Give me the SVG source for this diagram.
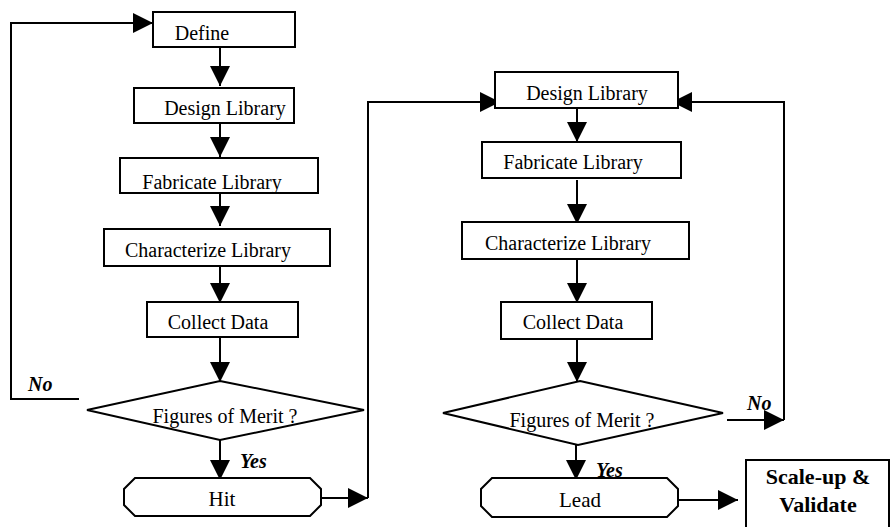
<svg xmlns="http://www.w3.org/2000/svg" width="893" height="527" viewBox="0 0 893 527">
<defs>
<marker id="ah" markerUnits="userSpaceOnUse" markerWidth="20" markerHeight="20" viewBox="0 0 20 20" refX="20" refY="10" orient="auto">
<path d="M0,0 L20,10 L0,20 Z" fill="#000"/>
</marker>
<style>
.box{fill:#fff;stroke:#000;stroke-width:2}
.c{fill:none;stroke:#000;stroke-width:2}
</style>
</defs>
<rect width="893" height="527" fill="#fff"/>
<g id="connectors">
<line class="c" x1="220" y1="42" x2="220" y2="86" marker-end="url(#ah)"/>
<line class="c" x1="220" y1="120" x2="220" y2="157" marker-end="url(#ah)"/>
<line class="c" x1="220" y1="187" x2="220" y2="226" marker-end="url(#ah)"/>
<line class="c" x1="220" y1="262" x2="220" y2="303" marker-end="url(#ah)"/>
<line class="c" x1="220" y1="338" x2="220" y2="382" marker-end="url(#ah)"/>
<line class="c" x1="220" y1="440" x2="220" y2="480" marker-end="url(#ah)"/>
<polyline class="c" points="79,399 11,399 11,23 153,23" marker-end="url(#ah)"/>
<line class="c" x1="312" y1="498" x2="368" y2="498" marker-end="url(#ah)"/>
<polyline class="c" points="368,498 368,102 500,102" marker-end="url(#ah)"/>
<line class="c" x1="577" y1="100" x2="577" y2="142" marker-end="url(#ah)"/>
<line class="c" x1="577" y1="180" x2="577" y2="224" marker-end="url(#ah)"/>
<line class="c" x1="577" y1="260" x2="577" y2="303" marker-end="url(#ah)"/>
<line class="c" x1="577" y1="339" x2="577" y2="382" marker-end="url(#ah)"/>
<line class="c" x1="576" y1="445" x2="576" y2="480" marker-end="url(#ah)"/>
<line class="c" x1="727" y1="420" x2="784" y2="420" marker-end="url(#ah)"/>
<polyline class="c" points="784,420 784,102 672,102" marker-end="url(#ah)"/>
<line class="c" x1="670" y1="500" x2="738" y2="500" marker-end="url(#ah)"/>
<g font-family="Liberation Serif, Times New Roman, serif" font-size="20" font-weight="bold" font-style="italic" fill="#000">
<text x="28" y="391">No</text>
<text x="240" y="468">Yes</text>
<text x="747" y="410">No</text>
<text x="596" y="477">Yes</text>
</g>
</g>
<g font-family="Liberation Serif, Times New Roman, serif" font-size="20" fill="#000" text-anchor="middle">
<g id="define"><rect class="box" x="153" y="12" width="142" height="35"/><text x="202" y="40">Define</text></g>
<g id="design1"><rect class="box" x="134" y="88" width="160" height="35"/><text x="225" y="115">Design Library</text></g>
<g id="fab1"><rect class="box" x="120" y="158" width="198" height="35"/><text x="212" y="189">Fabricate Library</text></g>
<g id="char1"><rect class="box" x="104" y="229" width="226" height="37"/><text x="208" y="257">Characterize Library</text></g>
<g id="collect1"><rect class="box" x="147" y="302" width="151" height="35"/><text x="218" y="329">Collect Data</text></g>
<g id="merit1"><polygon class="box" points="220,381 364,410 220,440 87,410"/><text x="225" y="423">Figures of Merit ?</text></g>
<g id="hit"><polygon class="box" points="135,478 310,478 321,489 321,505 310,516 135,516 124,505 124,489"/><text x="222" y="506" font-size="21">Hit</text></g>
<g id="design2"><rect class="box" x="495" y="72" width="183" height="36"/><text x="587" y="100">Design Library</text></g>
<g id="fab2"><rect class="box" x="482" y="142" width="199" height="36"/><text x="573" y="169">Fabricate Library</text></g>
<g id="char2"><rect class="box" x="462" y="222" width="227" height="37"/><text x="568" y="250">Characterize Library</text></g>
<g id="collect2"><rect class="box" x="501" y="302" width="151" height="37"/><text x="573" y="329">Collect Data</text></g>
<g id="merit2"><polygon class="box" points="580,381 723,413 578,445 443,413"/><text x="582" y="427">Figures of Merit ?</text></g>
<g id="lead"><polygon class="box" points="492,478 667,478 678,489 678,506 667,517 492,517 481,506 481,489"/><text x="580" y="507" font-size="21">Lead</text></g>
<g id="scaleup"><rect class="box" x="746" y="460" width="143" height="70"/><text x="818" y="484" font-size="22" font-weight="bold">Scale-up &amp;</text><text x="818" y="512" font-size="22" font-weight="bold">Validate</text></g>
</g>
</svg>
